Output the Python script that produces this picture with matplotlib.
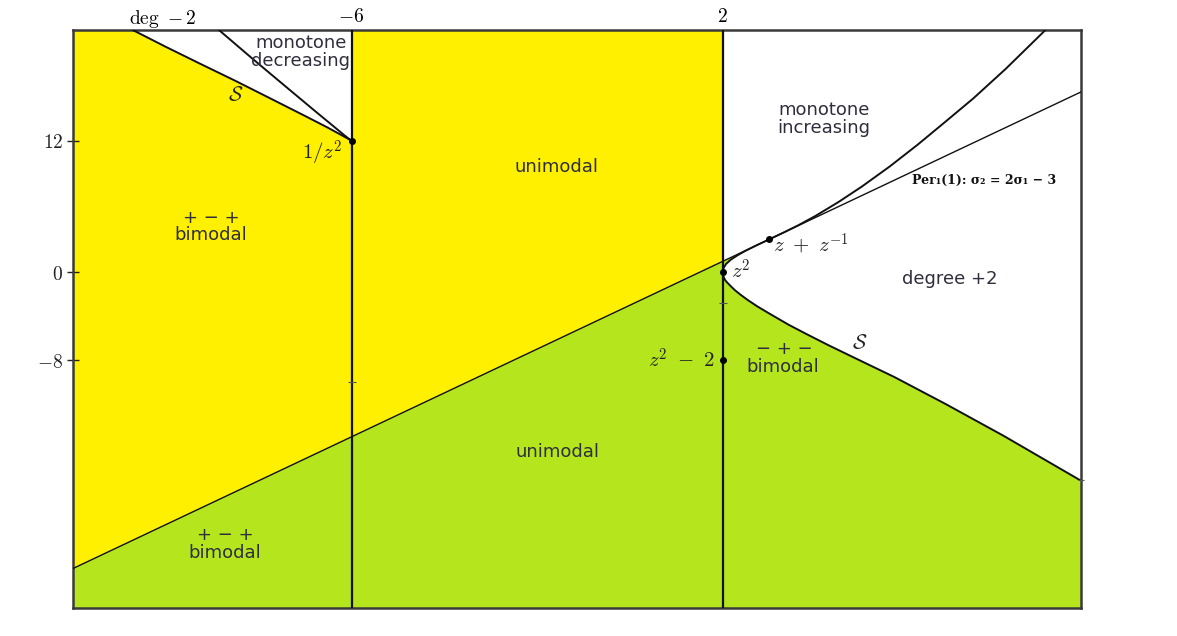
import matplotlib
matplotlib.use("Agg")
import matplotlib.pyplot as plt
import numpy as np

plt.rcParams['mathtext.fontset'] = 'cm'

# ---- data (sigma1, sigma2) ----
x_range = [-12.0, 9.715]
y_range = [-30.56, 22.09]
vertical_lines = [-6, 2]

# Per_1(1): sigma2 = 2 sigma1 - 3
per1_s1 = [-12.0, -6.0, 2.0, 3.0, 9.715]
per1_s2 = [-27.0, -15.0, 1.0, 3.0, 16.43]

# symmetry locus S, lower right branch (from z^2 down to the right border)
s_low_s1 = [2.0, 2.005, 2.02, 2.05, 2.1, 2.17, 2.26, 2.38, 2.53, 2.75, 3.0, 3.42, 3.8, 4.28, 4.89, 5.7, 6.8, 8.05, 9.70]
s_low_s2 = [0.0, -0.2, -0.43, -0.70, -0.95, -1.25, -1.62, -2.03, -2.5, -3.12, -3.75, -4.78, -5.62, -6.65, -7.9, -9.55, -12.0, -14.9, -18.95]

# S, branch from z^2 up to z + 1/z (hugging the Per_1(1) line)
s_mid_s1 = [2.0, 2.005, 2.02, 2.07, 2.17, 2.33, 2.50, 2.71, 2.88, 3.0]
s_mid_s2 = [0.0, 0.20, 0.40, 0.75, 1.14, 1.58, 1.98, 2.42, 2.76, 3.0]

# S, upper right branch (from z + 1/z to the top border)
s_up_s1 = [3.0, 3.3, 3.63, 4.0, 4.5, 5.0, 5.6, 6.2, 6.8, 7.4, 8.1, 8.97]
s_up_s2 = [3.0, 3.6, 4.29, 5.14, 6.42, 7.82, 9.65, 11.63, 13.73, 15.85, 18.55, 22.15]

# S, upper left branch (from 1/z^2 to the top border)
s_ul_s1 = [-6.0, -6.10, -6.53, -7.0, -7.80, -8.50, -9.27, -10.0, -10.72]
s_ul_s2 = [12.0, 12.24, 13.23, 14.25, 15.96, 17.45, 19.03, 20.55, 22.10]

# "deg -2" boundary (from 1/z^2 to the top border)
deg2_s1 = [-6.0, -6.05, -6.15, -6.35, -6.80, -7.40, -8.10, -8.86]
deg2_s2 = [12.0, 12.15, 12.48, 13.18, 14.75, 16.87, 19.35, 22.10]

# marked maps
pt_names = ['1/z^2', 'z^2', 'z^2-2', 'z+1/z']
pt_s1 = [-6.0, 2.0, 2.0, 3.0]
pt_s2 = [12.0, 0.0, -8.0, 3.0]

# small stray ticks seen on the vertical lines
stray_s1 = [-6.0, 2.0]
stray_s2 = [-10.0, -2.8]

y_ticks = [12, 0, -8]
y_tick_labels = [r'$12$', r'$0$', r'$-8$']
top_ticks = [-6, 2]
top_tick_labels = [r'$-6$', r'$2$']

YELLOW = '#FFF000'
GREEN = '#B5E61D'
TXT = '#2e2e3c'

fig = plt.figure(figsize=(11.77, 6.36), dpi=100)
ax = fig.add_axes([73.1 / 1177, 1 - 607.5 / 636, (1080.7 - 73.1) / 1177, (607.5 - 30) / 636])
ax.set_xlim(*x_range)
ax.set_ylim(*y_range)

ymin, ymax = y_range
xmin, xmax = x_range
BIG = 40

# ---- filled regions ----
poly_x = [per1_s1[0], per1_s1[1]] + s_ul_s1 + [s_ul_s1[-1], xmin - 1]
poly_y = [per1_s2[0], per1_s2[1]] + s_ul_s2 + [BIG, BIG]
ax.fill(poly_x, poly_y, color=YELLOW, lw=0, zorder=1)
ax.fill([per1_s1[1], per1_s1[2], per1_s1[2], per1_s1[1]],
        [per1_s2[1], per1_s2[2], BIG, BIG], color=YELLOW, lw=0, zorder=1)
ax.fill([xmin - 1, per1_s1[2], per1_s1[2], xmin - 1],
        [2 * (xmin - 1) - 3, per1_s2[2], -BIG, -BIG], color=GREEN, lw=0, zorder=1)
ax.fill([2.0] + s_low_s1 + [xmax + 1, 2.0],
        [-BIG] + s_low_s2 + [-BIG, -BIG], color=GREEN, lw=0, zorder=1)
ax.fill(s_mid_s1[:6] + [2.0], s_mid_s2[:6] + [1.0], color=GREEN, lw=0, zorder=1)

# ---- lines ----
for xv in vertical_lines:
    ax.axvline(xv, color='#111111', lw=1.6, zorder=3)
ax.plot(per1_s1, per1_s2, color='#111111', lw=1.0, zorder=3)
for xs, ys in [(s_low_s1, s_low_s2), (s_mid_s1, s_mid_s2), (s_up_s1, s_up_s2),
               (s_ul_s1, s_ul_s2), (deg2_s1, deg2_s2)]:
    ax.plot(xs, ys, color='#111111', lw=1.4, zorder=3, solid_capstyle='round',
            solid_joinstyle='round')
ax.plot(pt_s1, pt_s2, 'o', color='black', ms=4, zorder=4)
ax.plot(stray_s1, stray_s2, '_', color='#555555', ms=6, mew=0.8, zorder=4)
ax.plot([xmax], [s_low_s2[-1]], '_', color='#555555', ms=5, mew=0.8, zorder=4, clip_on=False)

# ---- frame and ticks ----
for sp in ax.spines.values():
    sp.set_color('#3a3a3a')
    sp.set_linewidth(1.8)
ax.set_xticks([])
ax.set_yticks(y_ticks)
ax.set_yticklabels(y_tick_labels, fontsize=14)
ax.tick_params(axis='y', direction='inout', length=8, width=1, pad=3, colors='#222222')
sec = ax.secondary_xaxis('top')
sec.set_xticks(top_ticks)
sec.set_xticklabels(top_tick_labels, fontsize=14)
sec.tick_params(length=0, pad=3)
sec.spines['top'].set_visible(False)
ax.text(-10.06, 23.1, r'$\mathrm{deg}\ -2$', fontsize=14, ha='center', va='center', clip_on=False)

# ---- labels ----
sans = dict(family='DejaVu Sans', fontsize=13, color=TXT, ha='center', va='center', zorder=5)
ax.text(-7.09, 20.9, 'monotone', **sans)
ax.text(-7.09, 19.26, 'decreasing', **sans)
ax.text(-9.03, 4.95, '+ − +', **sans)
ax.text(-9.03, 3.40, 'bimodal', **sans)
ax.text(-8.73, -23.95, '+ − +', **sans)
ax.text(-8.73, -25.59, 'bimodal', **sans)
ax.text(-1.59, 9.60, 'unimodal', **sans)
ax.text(-1.57, -16.38, 'unimodal', **sans)
ax.text(4.18, 14.79, 'monotone', **sans)
ax.text(4.18, 13.15, 'increasing', **sans)
ax.text(3.32, -6.99, '− + −', **sans)
ax.text(3.30, -8.63, 'bimodal', **sans)
ax.text(6.90, -0.61, 'degree +2', **sans)

math = dict(fontsize=15, color='#222222', va='center', zorder=5)
ax.text(-8.49, 16.16, r'$\mathcal{S}$', ha='center', **math)
ax.text(4.96, -6.45, r'$\mathcal{S}$', ha='center', **math)
ax.text(-6.64, 10.87, r'$1/z^2$', ha='center', **math)
ax.text(3.08, 2.67, r'$z\ +\ z^{-1}$', ha='left', **math)
ax.text(2.18, 0.12, r'$z^2$', ha='left', **math)
ax.text(1.83, -8.0, r'$z^2\ -\ 2$', ha='right', **math)
ax.text(7.63, 8.41, 'Per₁(1): σ₂ = 2σ₁ − 3', family='DejaVu Serif', fontweight='bold',
        fontsize=9, color='#111111', ha='center', va='center', zorder=5)

fig.savefig('out.png', dpi=100)
